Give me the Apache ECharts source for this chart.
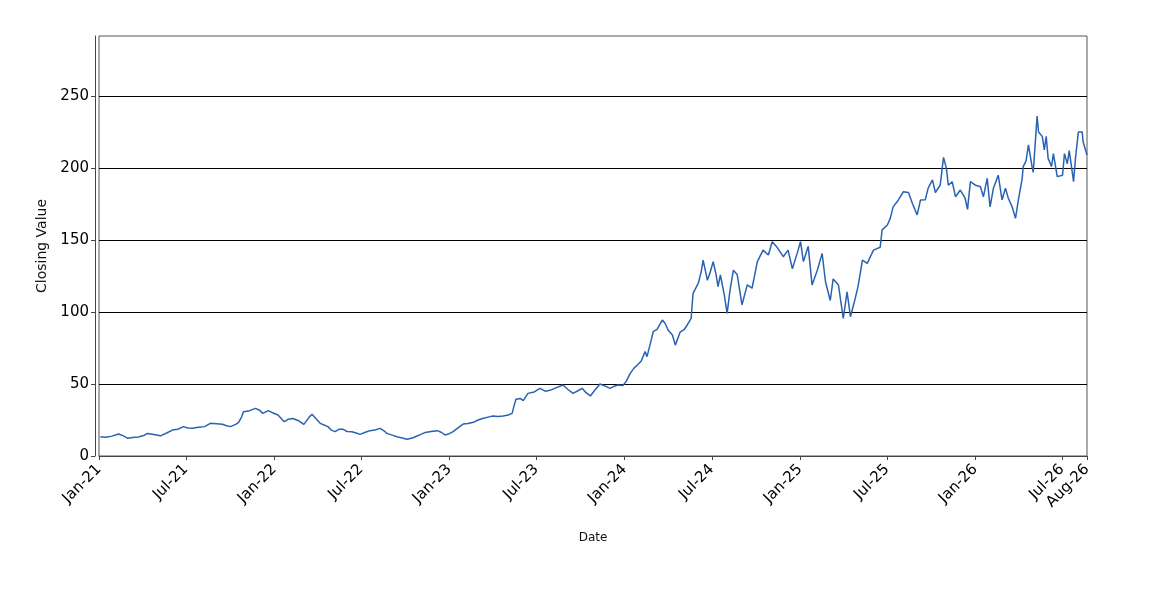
<!DOCTYPE html>
<html>
<head>
<meta charset="utf-8">
<script src="https://cdn.jsdelivr.net/npm/echarts@6/dist/echarts.min.js"></script>
<style>
  html, body { margin: 0; padding: 0; background: #fff; }
  #chart { width: 1150px; height: 600px; }
</style>
</head>
<body>
<div id="chart"></div>
<script>
const dates = [
  '2021-01-04','2021-01-15','2021-01-28','2021-02-11','2021-02-21','2021-03-02','2021-03-12','2021-03-24',
  '2021-04-04','2021-04-12','2021-04-25','2021-05-09','2021-05-22','2021-06-03','2021-06-14','2021-06-26',
  '2021-07-05','2021-07-15','2021-07-27','2021-08-09','2021-08-21','2021-09-03','2021-09-15','2021-09-24',
  '2021-10-02','2021-10-13','2021-10-19','2021-10-25','2021-10-29','2021-11-11','2021-11-23','2021-12-02',
  '2021-12-08','2021-12-20','2021-12-29','2022-01-09','2022-01-22','2022-01-30','2022-02-09','2022-02-22',
  '2022-03-04','2022-03-15','2022-03-21','2022-03-29','2022-04-07','2022-04-15','2022-04-23','2022-04-30',
  '2022-05-08','2022-05-16','2022-05-25','2022-06-02','2022-06-12','2022-06-21','2022-06-29','2022-07-10',
  '2022-07-20','2022-07-30','2022-08-10','2022-08-18','2022-08-24','2022-09-04','2022-09-14','2022-09-25',
  '2022-10-05','2022-10-16','2022-10-26','2022-11-03','2022-11-12','2022-11-24','2022-12-07','2022-12-15',
  '2022-12-23','2023-01-01','2023-01-09','2023-01-19','2023-01-30','2023-02-09','2023-02-20','2023-03-02',
  '2023-03-13','2023-03-23','2023-04-02','2023-04-13','2023-04-23','2023-05-04','2023-05-12','2023-05-16',
  '2023-05-20','2023-05-29','2023-06-04','2023-06-14','2023-06-27','2023-07-09','2023-07-20','2023-07-30',
  '2023-08-12','2023-08-26','2023-09-06','2023-09-16','2023-09-27','2023-10-05','2023-10-13','2023-10-22',
  '2023-11-01','2023-11-11','2023-11-22','2023-12-02','2023-12-11','2023-12-19','2023-12-29','2024-01-05',
  '2024-01-13','2024-01-21','2024-01-28','2024-02-05','2024-02-13','2024-02-17','2024-02-24','2024-03-01',
  '2024-03-09','2024-03-20','2024-03-26','2024-04-01','2024-04-10','2024-04-16','2024-04-26','2024-05-05',
  '2024-05-11','2024-05-19','2024-05-23','2024-06-03','2024-06-09','2024-06-13','2024-06-22','2024-06-28',
  '2024-07-04','2024-07-10','2024-07-14','2024-07-19','2024-07-27','2024-08-02','2024-08-08','2024-08-15',
  '2024-08-23','2024-09-02','2024-09-13','2024-09-23','2024-10-04','2024-10-16','2024-10-27','2024-11-04',
  '2024-11-14','2024-11-27','2024-12-07','2024-12-16','2024-12-26','2025-01-02','2025-01-08','2025-01-18',
  '2025-01-26','2025-02-06','2025-02-16','2025-02-23','2025-03-05','2025-03-11','2025-03-22','2025-04-01',
  '2025-04-09','2025-04-16','2025-04-26','2025-05-02','2025-05-11','2025-05-21','2025-06-03','2025-06-17',
  '2025-06-21','2025-07-02','2025-07-08','2025-07-14','2025-07-25','2025-08-04','2025-08-15','2025-08-23',
  '2025-09-02','2025-09-09','2025-09-19','2025-09-25','2025-10-04','2025-10-10','2025-10-20','2025-10-27',
  '2025-11-02','2025-11-06','2025-11-14','2025-11-21','2025-12-01','2025-12-11','2025-12-16','2025-12-22',
  '2026-01-02','2026-01-12','2026-01-18','2026-01-26','2026-02-01','2026-02-08','2026-02-18','2026-02-26',
  '2026-03-05','2026-03-11','2026-03-19','2026-03-26','2026-04-01','2026-04-09','2026-04-11','2026-04-17',
  '2026-04-22','2026-04-30','2026-05-02','2026-05-10','2026-05-13','2026-05-21','2026-05-25','2026-05-29',
  '2026-06-02','2026-06-09','2026-06-13','2026-06-21','2026-07-02','2026-07-06','2026-07-12','2026-07-16',
  '2026-07-25','2026-07-29','2026-08-04','2026-08-12','2026-08-14','2026-08-22'
];
const closes = [
  13.4, 13.0, 13.8, 15.3, 14.0, 12.3, 12.8, 13.2,
  14.2, 15.7, 15.0, 14.0, 16.0, 18.0, 18.6, 20.4,
  19.5, 19.3, 20.0, 20.4, 22.7, 22.4, 22.0, 21.0,
  20.4, 22.0, 23.4, 27.0, 30.8, 31.5, 33.1, 31.8,
  29.6, 31.5, 30.0, 28.5, 23.8, 25.5, 26.0, 24.3,
  22.0, 27.0, 29.0, 26.0, 22.7, 21.5, 20.4, 18.0,
  16.9, 18.5, 18.5, 17.0, 16.9, 16.0, 15.0, 16.5,
  17.6, 18.0, 19.2, 17.5, 15.7, 14.5, 13.4, 12.5,
  11.6, 12.5, 13.9, 15.0, 16.4, 17.0, 17.6, 16.5,
  14.6, 15.5, 16.9, 19.5, 22.2, 22.5, 23.4, 25.0,
  26.2, 27.0, 27.8, 27.5, 27.8, 28.5, 29.6, 35.0,
  39.4, 40.0, 38.5, 43.5, 44.5, 47.0, 45.0, 45.6,
  47.5, 49.3, 46.0, 43.5, 45.5, 47.0, 44.0, 41.7,
  46.0, 50.0, 48.5, 47.0, 48.5, 49.3, 49.0, 52.0,
  57.4, 61.0, 63.2, 66.0, 72.5, 69.0, 78.0, 86.3,
  88.0, 94.4, 92.0, 87.5, 84.0, 77.0, 86.0, 88.0,
  91.0, 95.6, 113.0, 120.0, 128.0, 136.0, 122.0, 128.0,
  135.0, 126.0, 117.6, 125.7, 112.0, 99.0, 115.0, 129.0,
  126.0, 105.0, 118.8, 116.5, 135.0, 143.0, 139.6, 148.8,
  145.0, 138.4, 143.0, 130.0, 140.7, 148.8, 135.0, 145.6,
  118.8, 129.0, 140.7, 121.0, 108.0, 123.0, 118.8, 95.6,
  114.0, 96.7, 109.5, 118.0, 136.0, 133.8, 143.0, 145.0,
  157.0, 160.4, 165.0, 173.0, 177.8, 183.5, 183.0, 175.5,
  167.4, 177.8, 178.0, 186.0, 191.7, 183.0, 188.0, 207.4,
  199.7, 188.0, 190.5, 180.0, 184.7, 179.0, 171.3, 190.5,
  188.0, 187.0, 180.0, 192.8, 173.0, 186.0, 195.0, 177.8,
  186.0, 179.0, 173.0, 165.0, 177.8, 192.8, 201.0, 205.0,
  216.0, 200.0, 197.0, 236.0, 225.0, 221.8, 212.5, 222.0,
  206.7, 201.0, 210.0, 194.0, 195.0, 210.0, 203.0, 212.0,
  190.5, 206.7, 225.0, 225.0, 218.0, 209.0
];
const tickDates = [
  '2021-01-01','2021-07-01','2022-01-01','2022-07-01','2023-01-01','2023-07-01',
  '2024-01-01','2024-07-01','2025-01-01','2025-07-01','2026-01-01','2026-07-01','2026-08-22'
];
const yTicks = [0, 50, 100, 150, 200, 250];
const MONTHS = ['Jan','Feb','Mar','Apr','May','Jun','Jul','Aug','Sep','Oct','Nov','Dec'];

// dates -> epoch ms (UTC), the x axis is a plain numeric axis over these
const toTime = s => { const p = s.split('-').map(Number); return Date.UTC(p[0], p[1] - 1, p[2]); };
const tickTimes = tickDates.map(toTime);
const fmtDate = v => { const d = new Date(v); return MONTHS[d.getUTCMonth()] + '-' + String(d.getUTCFullYear()).slice(2); };

const chart = echarts.init(document.getElementById('chart'));
chart.setOption({
  animation: false,
  grid: { left: 99, right: 63, top: 36, bottom: 144, show: true, borderColor: '#555', borderWidth: 1 },
  xAxis: {
    type: 'value',
    min: tickTimes[0], max: tickTimes[tickTimes.length - 1],
    offset: 5,
    name: 'Date', nameLocation: 'middle', nameGap: 71,
    nameTextStyle: { fontFamily: 'DejaVu Sans', fontSize: 12, color: '#111' },
    axisLine: { show: true, lineStyle: { color: '#444', width: 1 } },
    axisTick: { show: true, length: 4, customValues: tickTimes, lineStyle: { color: '#444' } },
    axisLabel: {
      customValues: tickTimes, rotate: 45, margin: 6,
      fontFamily: 'DejaVu Sans', fontSize: 15, color: '#000',
      formatter: fmtDate
    },
    splitLine: { show: false }
  },
  yAxis: {
    type: 'value', min: 0, max: 291.67, interval: 50,
    offset: 4,
    name: 'Closing Value', nameLocation: 'middle', nameGap: 42,
    nameTextStyle: { fontFamily: 'DejaVu Sans', fontSize: 14, color: '#111' },
    axisLine: { show: true, lineStyle: { color: '#444', width: 1 } },
    axisTick: { show: true, length: 4, customValues: yTicks, lineStyle: { color: '#444' } },
    axisLabel: { customValues: yTicks, margin: 6, fontFamily: 'DejaVu Sans', fontSize: 15, color: '#000' },
    splitLine: { show: true, lineStyle: { color: '#000', width: 1 } }
  },
  series: [{
    type: 'line', showSymbol: false,
    lineStyle: { color: '#2a62b2', width: 1.5 },
    data: dates.map((d, i) => [toTime(d), closes[i]])
  }]
});
</script>
</body>
</html>
